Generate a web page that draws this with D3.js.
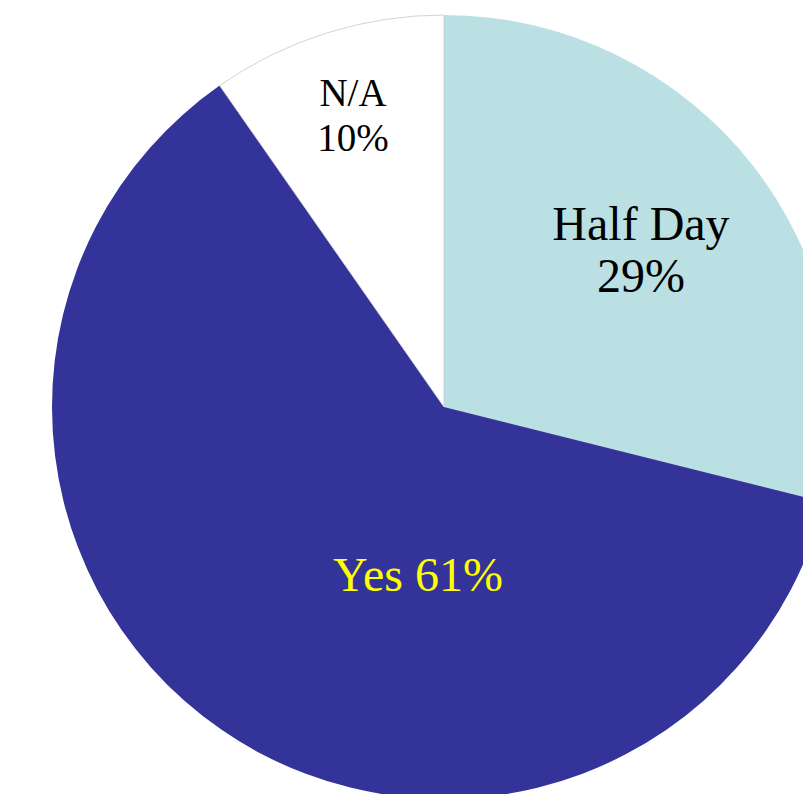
<!DOCTYPE html>
<html>
<head>
<meta charset="utf-8">
<script src="https://cdn.jsdelivr.net/npm/d3@7"></script>
<style>
  body { margin: 0; background: #fff; }
  svg { display: block; }
</style>
</head>
<body>
<svg id="chart" width="803" height="794"></svg>
<script>
const categories = ["Half Day", "Yes", "N/A"]
// shares as measured off the slice angles; labels show them rounded
const values = [28.9, 61.4, 9.7]
const colors = ["#bae0e3", "#333399", "#ffffff"]

const svg = d3.select("#chart")
const cx = 444, cy = 407, r = 392

const pie = d3.pie().sort(null).value(d => d.value)
const arcs = pie(categories.map((c, i) => ({name: c, value: values[i], color: colors[i]})))

const arc = d3.arc().innerRadius(0).outerRadius(r)

const g = svg.append("g").attr("transform", `translate(${cx},${cy})`)

g.selectAll("path")
  .data(arcs)
  .enter()
  .append("path")
  .attr("d", arc)
  .attr("fill", d => d.data.color)
  .attr("stroke", d => d.data.name === "N/A" ? "#c8c8c8" : "none")
  .attr("stroke-width", 0.8)

const pct = v => Math.round(v) + "%"

// labels, placed by hand like the original
const labels = [
  {lines: ["Half Day", pct(values[0])], x: 641, y: [240, 292], size: 48, color: "#000"},
  {lines: ["Yes " + pct(values[1])], x: 418, y: [591], size: 48, color: "#ffff00"},
  {lines: ["N/A", pct(values[2])], x: 353, y: [106, 151], size: 39, color: "#000"}
]

labels.forEach(l => {
  l.lines.forEach((t, i) => {
    svg.append("text")
      .attr("x", l.x)
      .attr("y", l.y[i])
      .attr("text-anchor", "middle")
      .attr("font-family", "'Liberation Serif', 'Times New Roman', serif")
      .attr("font-size", l.size)
      .attr("fill", l.color)
      .text(t)
  })
})
</script>
</body>
</html>
